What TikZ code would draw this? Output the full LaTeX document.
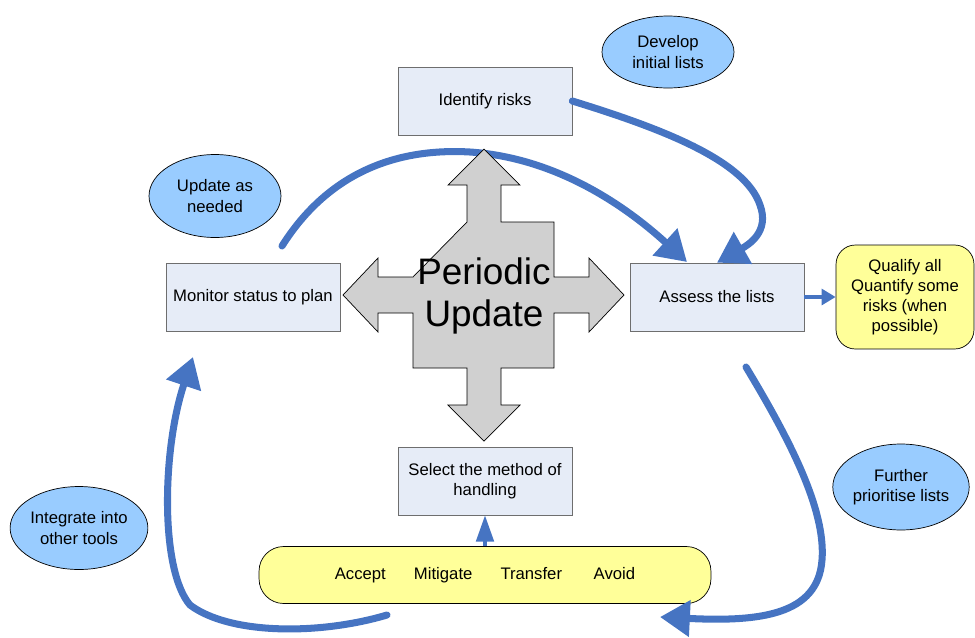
\documentclass[tikz,border=0pt]{standalone}
\usepackage{fontspec}
\setmainfont{Liberation Sans}
\usepackage{tikz}
\usetikzlibrary{shapes,arrows,positioning,calc,arrows.meta}

\definecolor{boxfill}{RGB}{230,236,247}
\definecolor{boxline}{RGB}{110,110,110}
\definecolor{bubble}{RGB}{153,204,255}
\definecolor{note}{RGB}{255,255,153}
\definecolor{hubfill}{RGB}{208,208,208}
\definecolor{loopblue}{RGB}{70,116,194}

\begin{document}
\begin{tikzpicture}[x=0.02cm, y=-0.02cm,
    every node/.style={font=\fontsize{9.5}{11.5}\selectfont, align=center},
    stepbox/.style={draw=boxline, fill=boxfill, minimum width=3.48cm, minimum height=1.36cm},
    bubble/.style={ellipse, draw, fill=bubble, inner sep=0pt, minimum width=2.64cm, minimum height=1.66cm},
    notebox/.style={draw, fill=note, rounded corners=11pt},
    cyclearrow/.style={draw=loopblue, line width=4pt, line cap=round, -{Triangle[length=17pt,width=20pt]}},
    feedarrow/.style={draw=loopblue, line width=2pt, -{Triangle[length=8pt,width=9pt]}}]
    \useasboundingbox (0,0) rectangle (975,637);

    % Steps of the cycle
    \node[stepbox] (identify) at (485,101) {Identify risks};
    \node[stepbox] (assess) at (717,297) {Assess the lists};
    \node[stepbox] (select) at (485,481) {Select the method of\\handling};
    \node[stepbox] (monitor) at (253,297) {Monitor status to plan};

    % Comments
    \node[bubble, minimum height=1.44cm] (develop) at (668,52) {Develop\\initial lists};
    \node[bubble] (update) at (215,196) {Update as\\needed};
    \node[bubble, minimum width=2.68cm, minimum height=1.72cm] (further) at (901,487) {Further\\prioritise lists};
    \node[bubble] (integrate) at (79,528) {Integrate into\\other tools};
    \node[notebox, minimum width=2.76cm, minimum height=2.08cm] (qualify) at (905,297)
        {Qualify all\\Quantify some\\risks (when\\possible)};
    \node[notebox, rounded corners=14pt, minimum width=9.04cm, minimum height=1.14cm] (choice) at (485,575)
        {Accept\hspace{16pt}Mitigate\hspace{16pt}Transfer\hspace{18pt}Avoid};

    % Loop arrows
    \coordinate (arcstart) at (282,246);
    \coordinate (arcend) at (687,262);
    \coordinate (downstart) at (746,367);
    \coordinate (downend) at (660,617);
    \coordinate (upstart) at (387,615);
    \coordinate (upend) at (193,357);
    \draw[cyclearrow] (identify.east) .. controls (660,128) and (745,160) .. (760,205)
        .. controls (770,232) and (748,245) .. (assess.north);
    \draw[cyclearrow] (arcstart) .. controls (330,170) and (400,148) .. (470,152)
        .. controls (560,158) and (630,210) .. (arcend);
    \draw[cyclearrow] (downstart) .. controls (790,440) and (826,510) .. (822,560)
        .. controls (818,615) and (760,622) .. (downend);
    \draw[cyclearrow] (upstart) .. controls (320,635) and (230,635) .. (190,605)
        .. controls (160,570) and (162,450) .. (upend);
    \draw[feedarrow] (assess.east) -- (qualify.west);
    \draw[draw=loopblue, line width=2pt, -{Triangle[length=15pt,width=10pt]}] (choice.north) -- (select.south);

    % Periodic update cross
    \draw[fill=hubfill] (467,222) -- (467,185) -- (448,185) -- (484,149) -- (520,185) -- (501,185)
        -- (501,222) -- (554,222) -- (554,277) -- (589,277) -- (589,258) -- (624,295) -- (589,332)
        -- (589,313) -- (554,313) -- (554,368) -- (501,368) -- (501,405) -- (520,405) -- (484,441)
        -- (448,405) -- (467,405) -- (467,368) -- (413,368) -- (413,313) -- (378,313) -- (378,332)
        -- (343,295) -- (378,258) -- (378,277) -- (413,277) -- cycle;
    \node[font=\fontsize{21}{24}\selectfont] (hub) at (484,296) {Periodic\\Update};
\end{tikzpicture}
\end{document}
